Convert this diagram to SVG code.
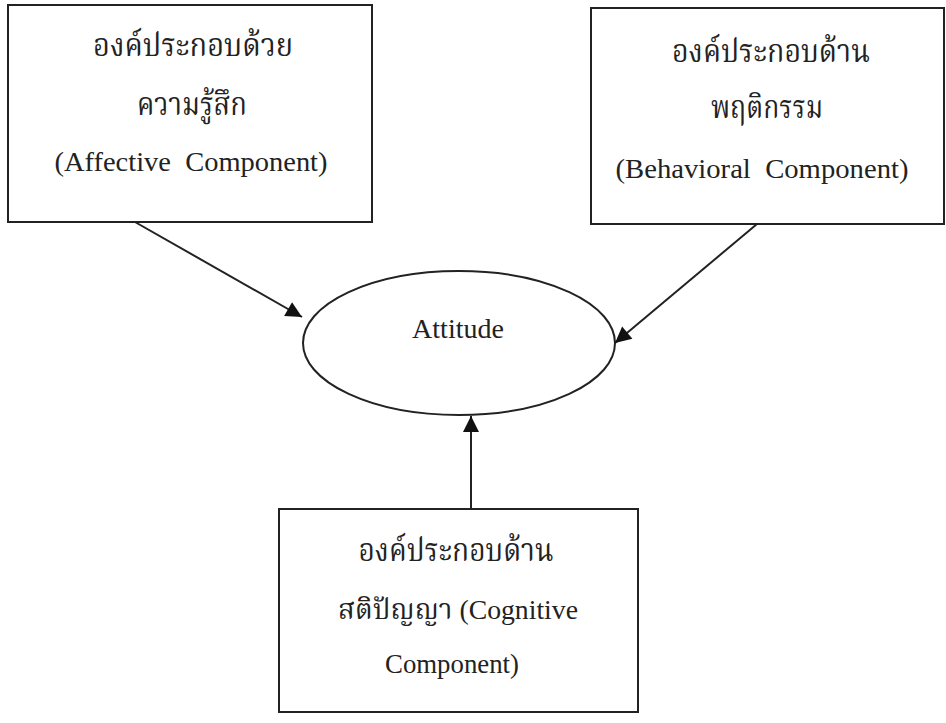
<svg xmlns="http://www.w3.org/2000/svg" width="946" height="723" viewBox="0 0 946 723">
<defs>
<style>
.box{fill:#fff;stroke:#222;stroke-width:2}
.t{font-family:"Liberation Serif","Noto Serif Thai","Noto Sans Thai",serif;font-size:28px;fill:#222;text-anchor:middle}
.th{font-size:32px}
.edge{stroke:#222;stroke-width:2;fill:none}
</style>
<marker id="ah" viewBox="0 0 10 10" refX="10" refY="5" markerWidth="8.5" markerHeight="8" markerUnits="strokeWidth" orient="auto">
<path d="M0,0 L10,5 L0,10 z" fill="#111"/>
</marker>
</defs>
<rect width="946" height="723" fill="#fff"/>
<g id="affective">
<rect class="box" x="8" y="5" width="364" height="217"/>
<text class="t th" x="193" y="56" textLength="200" lengthAdjust="spacingAndGlyphs">องค์ประกอบด้วย</text>
<text class="t th" x="192" y="115" textLength="110" lengthAdjust="spacingAndGlyphs">ความรู้สึก</text>
<text class="t" x="191" y="171" textLength="273" lengthAdjust="spacingAndGlyphs">(Affective&#160; Component)</text>
</g>
<g id="behavioral">
<rect class="box" x="591" y="8" width="353" height="216"/>
<text class="t th" x="771" y="62" textLength="198" lengthAdjust="spacingAndGlyphs">องค์ประกอบด้าน</text>
<text class="t th" x="767" y="118" textLength="112" lengthAdjust="spacingAndGlyphs">พฤติกรรม</text>
<text class="t" x="762" y="178" textLength="293" lengthAdjust="spacingAndGlyphs">(Behavioral&#160; Component)</text>
</g>
<g id="attitude">
<ellipse class="box" cx="459" cy="343" rx="156" ry="72"/>
<text class="t" x="458" y="338" font-size="27">Attitude</text>
</g>
<g id="cognitive">
<rect class="box" x="279" y="509" width="359" height="203"/>
<text class="t th" x="456" y="561" textLength="195" lengthAdjust="spacingAndGlyphs">องค์ประกอบด้าน</text>
<text class="t" x="458" y="619" textLength="240" lengthAdjust="spacingAndGlyphs">สติปัญญา (Cognitive</text>
<text class="t" x="452" y="673" textLength="134" lengthAdjust="spacingAndGlyphs">Component)</text>
</g>
<g id="connectors">
<line class="edge" x1="135" y1="222" x2="302" y2="317" marker-end="url(#ah)"/>
<line class="edge" x1="757" y1="224" x2="615" y2="343" marker-end="url(#ah)"/>
<line class="edge" x1="471" y1="508" x2="471" y2="416" marker-end="url(#ah)"/>
</g>
</svg>
